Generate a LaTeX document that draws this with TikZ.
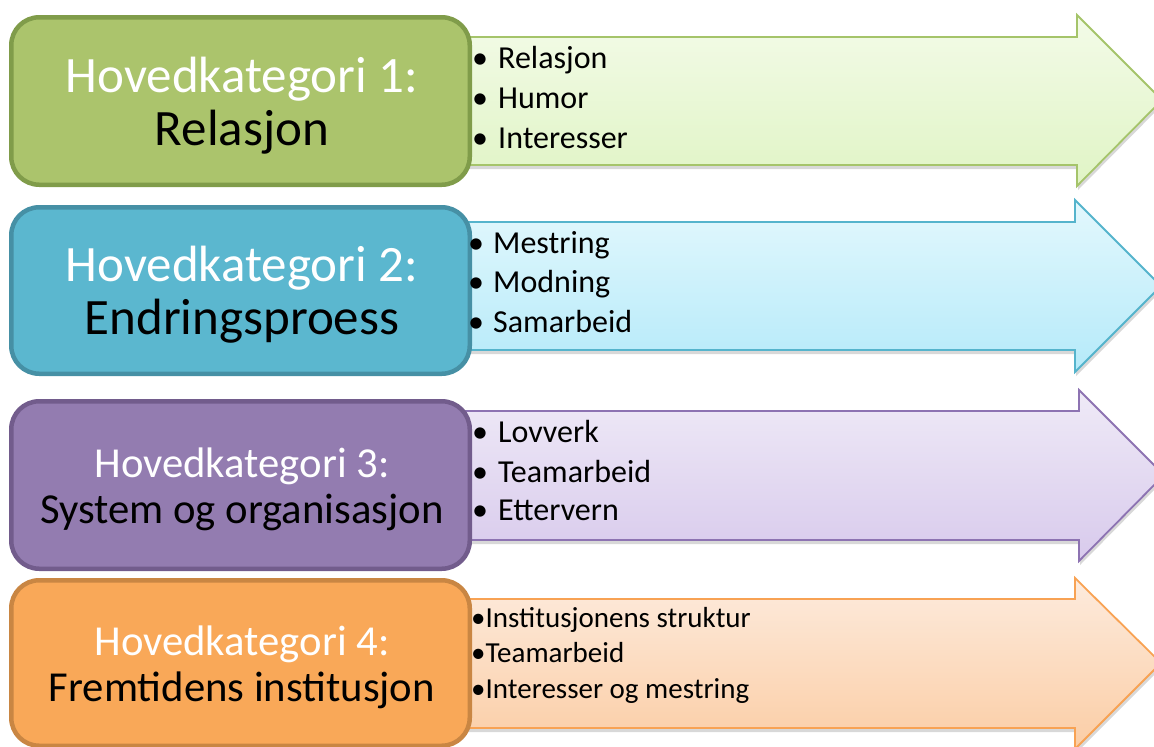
\documentclass[tikz,border=0pt]{standalone}
\usepackage{fontspec}
\setmainfont{Carlito}
\usetikzlibrary{shadows}
\definecolor{gFill}{HTML}{ABC46C}\definecolor{gLine}{HTML}{809C4A}
\definecolor{bFill}{HTML}{5BB7CF}\definecolor{bLine}{HTML}{4690A5}
\definecolor{pFill}{HTML}{937CB0}\definecolor{pLine}{HTML}{725C8C}
\definecolor{oFill}{HTML}{F9A858}\definecolor{oLine}{HTML}{C98643}
\definecolor{gT}{HTML}{F3FBE8}\definecolor{gB}{HTML}{E0F4C5}\definecolor{gA}{HTML}{A5C46A}
\definecolor{bT}{HTML}{E3F8FD}\definecolor{bB}{HTML}{B5EAF9}\definecolor{bA}{HTML}{55B4CC}
\definecolor{pT}{HTML}{EFEAF7}\definecolor{pB}{HTML}{D8CAEC}\definecolor{pA}{HTML}{8D73B2}
\definecolor{oT}{HTML}{FDEBDD}\definecolor{oB}{HTML}{FBCDA5}\definecolor{oA}{HTML}{F8A253}
\tikzset{
  arrowshape/.style={line width=1.8pt, line join=miter,
    drop shadow={shadow xshift=1pt, shadow yshift=-4pt, opacity=0.22, fill=black!70}},
  catbox/.style={rounded corners=28pt, line width=4.5pt, minimum width=458.5pt},
  bigtitle/.style={font=\fontsize{51}{55}\selectfont, anchor=base, inner sep=0pt},
  midtitle/.style={font=\fontsize{42.7}{47}\selectfont, anchor=base, inner sep=0pt},
  item/.style={font=\fontsize{32}{36}\selectfont, anchor=base west, inner sep=0pt},
  smallitem/.style={font=\fontsize{29}{32}\selectfont, anchor=base west, inner sep=0pt}
}
\begin{document}
\begin{tikzpicture}[x=1pt,y=-1pt]
\useasboundingbox (0,0) rectangle (1154,747);
% arrows
\path[arrowshape, draw=gA, top color=gT, bottom color=gB]
  (455,37) -- (1077,37) -- (1077,15) -- (1162,100) -- (1077,186) -- (1077,165) -- (455,165) -- cycle;
\path[arrowshape, draw=bA, top color=bT, bottom color=bB]
  (455,222) -- (1075,222) -- (1075,200) -- (1161,286) -- (1075,372) -- (1075,350) -- (455,350) -- cycle;
\path[arrowshape, draw=pA, top color=pT, bottom color=pB]
  (455,411) -- (1079,411) -- (1079,390) -- (1164,475) -- (1079,561) -- (1079,540) -- (455,540) -- cycle;
\path[arrowshape, draw=oA, top color=oT, bottom color=oB]
  (455,599) -- (1075,599) -- (1075,578) -- (1161,663) -- (1075,749) -- (1075,728) -- (455,728) -- cycle;
% boxes
\node[catbox, fill=gFill, draw=gLine, minimum height=167.5pt] (b1) at (240.5,101) {};
\node[catbox, fill=bFill, draw=bLine, minimum height=166.5pt] (b2) at (240.5,290.5) {};
\node[catbox, fill=pFill, draw=pLine, minimum height=167.5pt] (b3) at (240.5,485) {};
\node[catbox, fill=oFill, draw=oLine, minimum height=165.5pt] (b4) at (240.5,663) {};
% box texts
\node[bigtitle, text=white] (t1a) at (242,92) {Hovedkategori 1:};
\node[bigtitle] (t1b) at (242,145) {Relasjon};
\node[bigtitle, text=white] (t2a) at (242,281) {Hovedkategori 2:};
\node[bigtitle] (t2b) at (242,334) {Endringsproess};
\node[midtitle, text=white] (t3a) at (242,477) {Hovedkategori 3:};
\node[midtitle] (t3b) at (242,523) {System og organisasjon};
\node[midtitle, text=white] (t4a) at (242,655) {Hovedkategori 4:};
\node[midtitle] (t4b) at (242,701) {Fremtidens institusjon};
% items
\node[item] (i11) at (472,68) {\makebox[26pt][l]{•}Relasjon};
\node[item] (i12) at (472,108) {\makebox[26pt][l]{•}Humor};
\node[item] (i13) at (472,148) {\makebox[26pt][l]{•}Interesser};
\node[item] (i21) at (468,253) {\makebox[25pt][l]{•}Mestring};
\node[item] (i22) at (468,292) {\makebox[25pt][l]{•}Modning};
\node[item] (i23) at (468,332) {\makebox[25pt][l]{•}Samarbeid};
\node[item] (i31) at (472,442) {\makebox[26pt][l]{•}Lovverk};
\node[item] (i32) at (472,482) {\makebox[26pt][l]{•}Teamarbeid};
\node[item] (i33) at (472,520) {\makebox[26pt][l]{•}Ettervern};
\node[smallitem] (i41) at (471,627) {•Institusjonens struktur};
\node[smallitem] (i42) at (471,662) {•Teamarbeid};
\node[smallitem] (i43) at (471,698) {•Interesser og mestring};
\end{tikzpicture}
\end{document}
